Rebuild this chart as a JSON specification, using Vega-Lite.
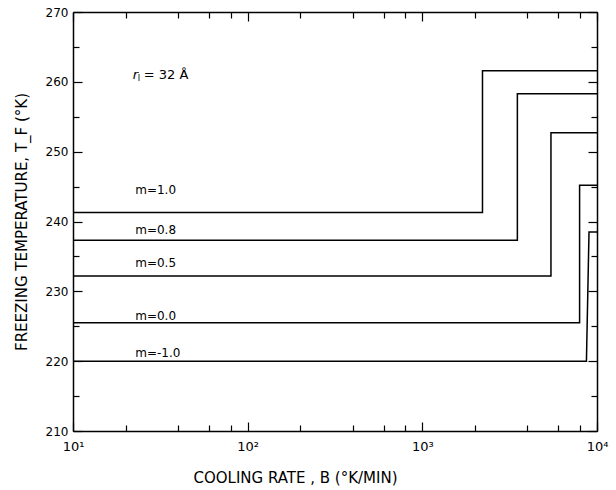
{
  "$schema": "https://vega.github.io/schema/vega-lite/v6.json",
  "width": 524,
  "height": 419,
  "autosize": {"type": "none"},
  "padding": {"left": 73, "top": 12, "right": 19, "bottom": 59},
  "background": "white",
  "config": {
    "view": {"stroke": null},
    "font": "DejaVu Sans",
    "axis": {
      "domainColor": "black",
      "domainWidth": 1.5,
      "tickColor": "black",
      "tickWidth": 1.2,
      "labelColor": "black",
      "titleColor": "black",
      "labelFont": "DejaVu Sans",
      "titleFont": "DejaVu Sans",
      "labelFontSize": 12,
      "titleFontSize": 15,
      "titleFontWeight": "normal",
      "grid": false
    }
  },
  "datasets": {
    "curves": [
      {"m": "1.0", "i": 0, "B": 10, "T": 241.3},
      {"m": "1.0", "i": 1, "B": 2210, "T": 241.3},
      {"m": "1.0", "i": 2, "B": 2210, "T": 261.6},
      {"m": "1.0", "i": 3, "B": 10000, "T": 261.6},
      {"m": "0.8", "i": 0, "B": 10, "T": 237.3},
      {"m": "0.8", "i": 1, "B": 3500, "T": 237.3},
      {"m": "0.8", "i": 2, "B": 3500, "T": 258.3},
      {"m": "0.8", "i": 3, "B": 10000, "T": 258.3},
      {"m": "0.5", "i": 0, "B": 10, "T": 232.2},
      {"m": "0.5", "i": 1, "B": 5450, "T": 232.2},
      {"m": "0.5", "i": 2, "B": 5450, "T": 252.7},
      {"m": "0.5", "i": 3, "B": 10000, "T": 252.7},
      {"m": "0.0", "i": 0, "B": 10, "T": 225.5},
      {"m": "0.0", "i": 1, "B": 7950, "T": 225.5},
      {"m": "0.0", "i": 2, "B": 7950, "T": 245.2},
      {"m": "0.0", "i": 3, "B": 10000, "T": 245.2},
      {"m": "-1.0", "i": 0, "B": 10, "T": 220.0},
      {"m": "-1.0", "i": 1, "B": 8700, "T": 220.0},
      {"m": "-1.0", "i": 2, "B": 9000, "T": 238.5},
      {"m": "-1.0", "i": 3, "B": 10000, "T": 238.5}
    ],
    "labels": [
      {"label": "m=1.0", "B": 22.7, "T": 244.5},
      {"label": "m=0.8", "B": 22.7, "T": 238.8},
      {"label": "m=0.5", "B": 22.7, "T": 234.1},
      {"label": "m=0.0", "B": 22.7, "T": 226.5},
      {"label": "m=-1.0", "B": 22.7, "T": 221.2}
    ],
    "note": [
      {"base": "r", "sub": "I", "rest": "= 32 Å", "B": 22, "T": 261.0}
    ]
  },
  "resolve": {"axis": {"x": "independent", "y": "independent"}},
  "layer": [
    {
      "data": {"name": "curves"},
      "mark": {"type": "point", "opacity": 0},
      "encoding": {
        "x": {
          "field": "B", "type": "quantitative",
          "scale": {"type": "log", "domain": [10, 10000], "nice": false},
          "axis": {
            "orient": "bottom",
            "values": [10, 20, 40, 60, 80, 100, 200, 400, 600, 800, 1000, 2000, 4000, 6000, 8000, 10000],
            "labelExpr": "datum.value == 10 ? '10¹' : datum.value == 100 ? '10²' : datum.value == 1000 ? '10³' : datum.value == 10000 ? '10⁴' : ''",
            "tickSize": {"condition": {"test": "datum.value == 10 || datum.value == 100 || datum.value == 1000 || datum.value == 10000", "value": -9}, "value": -6},
            "labelPadding": 18,
            "labelFontSize": 13,
            "labelFlush": false,
            "title": "COOLING RATE , B (°K/MIN)",
            "titleX": 222,
            "titlePadding": 17
          }
        },
        "y": {
          "field": "T", "type": "quantitative",
          "scale": {"domain": [210, 270], "nice": false, "zero": false},
          "axis": {
            "orient": "left",
            "values": [210, 215, 220, 225, 230, 235, 240, 245, 250, 255, 260, 265, 270],
            "labelExpr": "datum.value % 10 == 0 ? datum.label : ''",
            "tickSize": {"condition": {"test": "datum.value % 10 == 0", "value": -9}, "value": -6},
            "labelPadding": 14,
            "title": "FREEZING TEMPERATURE, T_F (°K)",
            "titlePadding": 16
          }
        }
      }
    },
    {
      "data": {"name": "curves"},
      "mark": {"type": "point", "opacity": 0},
      "encoding": {
        "x": {
          "field": "B", "type": "quantitative",
          "axis": {
            "orient": "top",
            "values": [10, 20, 40, 60, 80, 100, 200, 400, 600, 800, 1000, 2000, 4000, 6000, 8000, 10000],
            "labels": false,
            "tickSize": {"condition": {"test": "datum.value == 10 || datum.value == 100 || datum.value == 1000 || datum.value == 10000", "value": -9}, "value": -6},
            "title": null
          }
        },
        "y": {
          "field": "T", "type": "quantitative",
          "axis": {
            "orient": "right",
            "values": [210, 215, 220, 225, 230, 235, 240, 245, 250, 255, 260, 265, 270],
            "labels": false,
            "tickSize": {"condition": {"test": "datum.value % 10 == 0", "value": -9}, "value": -6},
            "title": null
          }
        }
      }
    },
    {
      "data": {"name": "curves"},
      "mark": {"type": "line", "color": "black", "strokeWidth": 1.5, "interpolate": "linear"},
      "encoding": {
        "x": {"field": "B", "type": "quantitative", "axis": null},
        "y": {"field": "T", "type": "quantitative", "axis": null},
        "detail": {"field": "m"},
        "order": {"field": "i", "type": "quantitative"}
      }
    },
    {
      "data": {"name": "labels"},
      "mark": {"type": "text", "align": "left", "baseline": "middle", "fontSize": 12, "font": "DejaVu Sans", "color": "black"},
      "encoding": {
        "x": {"field": "B", "type": "quantitative", "axis": null},
        "y": {"field": "T", "type": "quantitative", "axis": null},
        "text": {"field": "label"}
      }
    },
    {
      "data": {"name": "note"},
      "mark": {"type": "text", "align": "left", "baseline": "middle", "fontSize": 13, "font": "DejaVu Sans", "fontStyle": "italic", "color": "black"},
      "encoding": {
        "x": {"field": "B", "type": "quantitative", "axis": null},
        "y": {"field": "T", "type": "quantitative", "axis": null},
        "text": {"field": "base"}
      }
    },
    {
      "data": {"name": "note"},
      "mark": {"type": "text", "align": "left", "baseline": "middle", "fontSize": 8, "font": "DejaVu Sans", "color": "black", "dx": 5, "dy": 4},
      "encoding": {
        "x": {"field": "B", "type": "quantitative", "axis": null},
        "y": {"field": "T", "type": "quantitative", "axis": null},
        "text": {"field": "sub"}
      }
    },
    {
      "data": {"name": "note"},
      "mark": {"type": "text", "align": "left", "baseline": "middle", "fontSize": 13, "font": "DejaVu Sans", "color": "black", "dx": 11},
      "encoding": {
        "x": {"field": "B", "type": "quantitative", "axis": null},
        "y": {"field": "T", "type": "quantitative", "axis": null},
        "text": {"field": "rest"}
      }
    }
  ]
}
